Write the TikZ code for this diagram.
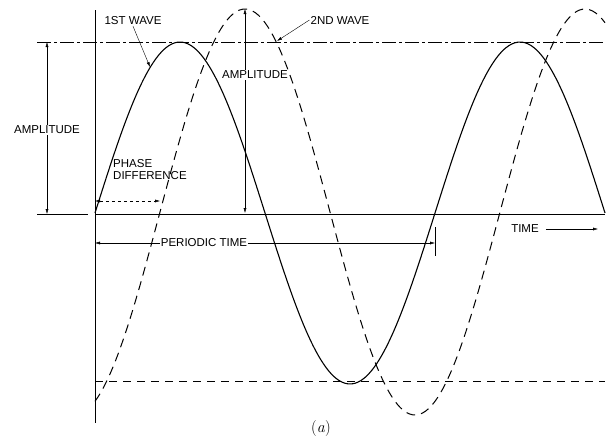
\documentclass[tikz,border=0pt]{standalone}
\usepackage{fontspec}
\setsansfont{Liberation Sans}
\usepackage{tikz}
\usetikzlibrary{positioning,arrows.meta,calc}

\begin{document}
\begin{tikzpicture}[x=1pt,y=-1pt,
  lbl/.style={font=\sffamily\fontsize{11.5}{12}\selectfont, inner sep=1pt},
  tip/.style={-{Latex[length=5pt,width=3pt]}},
  dim/.style={thin, {Latex[length=5pt,width=3pt]}-{Latex[length=5pt,width=3pt]}}]
\useasboundingbox (0,0) rectangle (609,439);
\draw[line width=0.5pt] (95,10) -- (95,423);
\draw[line width=0.6pt] (95,214) -- (605,214);
\draw[line width=0.5pt] (37,214) -- (88,214);
\draw[line width=0.5pt, dash pattern=on 14pt off 3pt on 3pt off 3pt] (37,42) -- (605,42);
\draw[line width=0.6pt, dash pattern=on 8pt off 6pt] (95,381) -- (605,381);
\coordinate (ampLtop) at (47,42);
\coordinate (ampLbot) at (47,214);
\node[lbl] (ampL) at (47,130) {AMPLITUDE};
\draw[tip, thin] (ampL) -- (ampLtop);
\draw[tip, thin] (ampL) -- (ampLbot);
\coordinate (ampMtop) at (245,9);
\coordinate (ampMbot) at (245,213);
\draw[dim] (ampMtop) -- (ampMbot);
\node[lbl, fill=white] (ampM) at (255,75) {AMPLITUDE};
\coordinate (phL) at (95,201);
\coordinate (phR) at (160,201);
\draw[dim, dashed] (phL) -- (phR);
\node[lbl, align=left, anchor=north west] (phase) at (112,158) {PHASE\\DIFFERENCE};
\coordinate (perL) at (95,243);
\coordinate (perR) at (435,243);
\draw[thin] (435,227) -- (435,256);
\draw[dim] (perL) -- (perR);
\node[lbl, fill=white] (period) at (204,243) {PERIODIC TIME};
\node[lbl] (time) at (525,229) {TIME};
\coordinate (timeEnd) at (598,229);
\draw[tip, thin] (time.east) ++(6,0) -- (timeEnd);
\node[lbl] (wave1) at (133,21) {1ST WAVE};
\coordinate (w1pt) at (150,67);
\draw[tip, thin] (wave1.south) -- (w1pt);
\node[lbl] (wave2) at (340,20) {2ND WAVE};
\coordinate (w2pt) at (277,41);
\draw[tip, thin] (wave2.west) -- (w2pt);
\draw[line width=1.1pt] plot[domain=95:605, samples=160, smooth] (\x, {213-171*sin((\x-95)/340*360)});
\draw[line width=1pt, dash pattern=on 9pt off 6pt] plot[domain=95:605, samples=160, smooth] (\x, {212-203*sin((\x-160)/340*360)});
\node[font=\fontsize{16}{18}\selectfont] (cap) at (321,428) {(\textit{a})};
\end{tikzpicture}
\end{document}
